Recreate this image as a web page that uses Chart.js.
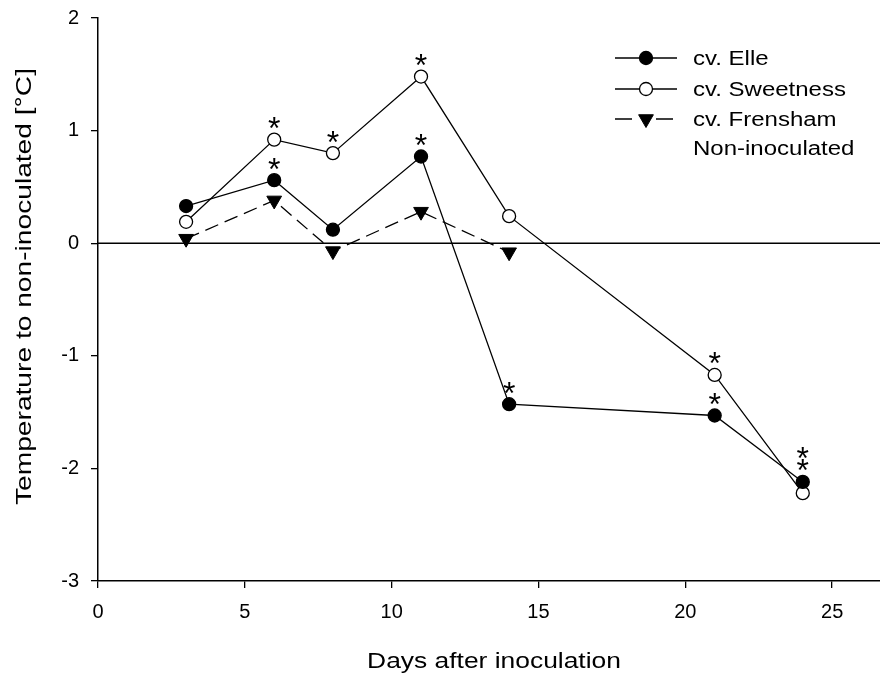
<!DOCTYPE html>
<html>
<head>
<meta charset="utf-8">
<script src="https://cdn.jsdelivr.net/npm/chart.js@4/dist/chart.umd.min.js"></script>
<style>
  html, body { margin: 0; padding: 0; background: #fff; }
  canvas { display: block; }
</style>
</head>
<body>
<canvas id="chart" width="880" height="675"></canvas>
<script>
// ── Data: temperature difference to the non-inoculated control ──
const days = [3, 6, 8, 11, 14, 21, 24];
const elleValues = [0.33, 0.56, 0.12, 0.77, -1.43, -1.53, -2.12];
const sweetnessValues = [0.19, 0.92, 0.80, 1.48, 0.24, -1.17, -2.22];
const frenshamDays = [3, 6, 8, 11, 14];
const frenshamValues = [0.04, 0.38, -0.07, 0.28, -0.08];
const controlDays = [0, 27];
const controlValues = [0, 0];

// days with a significant difference (marked with *)
const elleSignificant = [6, 11, 14, 21, 24];
const sweetnessSignificant = [6, 8, 11, 21, 24];

const seriesLabels = ['cv. Elle', 'cv. Sweetness', 'cv. Frensham', 'Non-inoculated'];
const xTickValues = [0, 5, 10, 15, 20, 25];
const yTickValues = [-3, -2, -1, 0, 1, 2];
const xTitle = 'Days after inoculation';
const yTitle = 'Temperature to non-inoculated [°C]';

const FONT = '"Liberation Sans", Arial, Helvetica, sans-serif';

const toPoints = (xs, ys) => xs.map((x, i) => ({ x: x, y: ys[i] }));

// text drawn a little wider than the plain font
function wideText(ctx, text, x, y, size, stretch, rotate, align) {
    ctx.save();
    ctx.translate(x, y);
    if (rotate) ctx.rotate(rotate);
    ctx.scale(stretch, 1);
    ctx.font = size + 'px ' + FONT;
    ctx.fillStyle = '#000';
    ctx.textBaseline = 'alphabetic';
    ctx.textAlign = align || 'center';
    ctx.fillText(text, 0, 0);
    ctx.restore();
}

// ── Asterisks, axis titles and legend ─────────────
const extras = {
    id: 'extras',
    afterDatasetsDraw(chart) {
        const ctx = chart.ctx;
        const marks = [[0, elleSignificant], [1, sweetnessSignificant]];
        const byDay = {};
        marks.forEach(([dsIndex, list]) => {
            const meta = chart.getDatasetMeta(dsIndex);
            list.forEach((d) => {
                const i = chart.data.datasets[dsIndex].data.findIndex(p => p.x === d);
                if (i < 0) return;
                const el = meta.data[i];
                (byDay[d] = byDay[d] || []).push({ x: el.x, y: el.y });
            });
        });

        const size = 32;
        ctx.save();
        ctx.font = size + 'px ' + FONT;
        ctx.fillStyle = '#000';
        ctx.textAlign = 'center';
        ctx.textBaseline = 'alphabetic';
        Object.values(byDay).forEach((pts) => {
            pts.sort((a, b) => a.y - b.y);
            let prev = null;
            pts.forEach((p) => {
                let cy;
                if (prev && p.y - prev.pointY < 25) {
                    cy = prev.starY - 12;   // stack above the neighbouring star
                } else {
                    cy = p.y - 19;
                }
                ctx.fillText('*', p.x, cy + size * 0.575);
                prev = { pointY: p.y, starY: cy };
            });
        });
        ctx.restore();
    },
    afterDraw(chart) {
        const ctx = chart.ctx;
        const area = chart.chartArea;

        // axis titles
        wideText(ctx, xTitle, (area.left + area.right) / 2 + 5, 668, 22, 1.2, 0);
        wideText(ctx, yTitle, 31, (area.top + area.bottom) / 2 - 13, 22, 1.28, -Math.PI / 2);

        // legend
        const rowY = [58, 89, 119, 148];
        const lineX0 = 615, lineX1 = 677, markX = 646, textX = 693;
        chart.data.datasets.forEach((ds, i) => {
            const y = rowY[i];
            ctx.save();
            ctx.strokeStyle = '#000';
            ctx.lineWidth = 1.3;
            if (i < 3) {
                ctx.beginPath();
                if (ds.borderDash && ds.borderDash.length) {
                    ctx.moveTo(lineX0, y); ctx.lineTo(lineX0 + 17, y);
                    ctx.moveTo(lineX1 - 21, y); ctx.lineTo(lineX1 - 4, y);
                } else {
                    ctx.moveTo(lineX0, y); ctx.lineTo(lineX1, y);
                }
                ctx.stroke();
                ctx.fillStyle = ds.pointBackgroundColor;
                ctx.strokeStyle = ds.pointBorderColor;
                ctx.lineWidth = ds.pointBorderWidth;
                Chart.helpers.drawPoint(ctx, {
                    pointStyle: ds.pointStyle,
                    radius: ds.pointRadius,
                    rotation: ds.pointRotation || 0,
                    borderWidth: ds.pointBorderWidth
                }, markX, y);
            }
            ctx.restore();
            wideText(ctx, seriesLabels[i], textX, y + 7, 20, 1.2, 0, 'left');
        });
    }
};

const ctx = document.getElementById('chart').getContext('2d');

new Chart(ctx, {
    type: 'line',
    data: {
        datasets: [
            {
                label: seriesLabels[0],
                data: toPoints(days, elleValues),
                borderColor: '#000',
                borderWidth: 1.3,
                pointStyle: 'circle',
                pointRadius: 6.5,
                pointBackgroundColor: '#000',
                pointBorderColor: '#000',
                pointBorderWidth: 1.3,
                order: 1
            },
            {
                label: seriesLabels[1],
                data: toPoints(days, sweetnessValues),
                borderColor: '#000',
                borderWidth: 1.3,
                pointStyle: 'circle',
                pointRadius: 6.5,
                pointBackgroundColor: '#fff',
                pointBorderColor: '#000',
                pointBorderWidth: 1.3,
                order: 2
            },
            {
                label: seriesLabels[2],
                data: toPoints(frenshamDays, frenshamValues),
                borderColor: '#000',
                borderWidth: 1.3,
                borderDash: [14, 7],
                pointStyle: 'triangle',
                pointRotation: 180,
                pointRadius: 8.5,
                pointBackgroundColor: '#000',
                pointBorderColor: '#000',
                pointBorderWidth: 1,
                order: 3
            },
            {
                label: seriesLabels[3],
                data: toPoints(controlDays, controlValues),
                borderColor: '#000',
                borderWidth: 1.5,
                pointRadius: 0,
                order: 4
            }
        ]
    },
    options: {
        responsive: false,
        animation: false,
        layout: { autoPadding: false, padding: { top: 18, right: 0, bottom: 0, left: 0 } },
        plugins: {
            legend: { display: false },
            tooltip: { enabled: false }
        },
        scales: {
            x: {
                type: 'linear',
                min: 0,
                max: 26.63,
                afterBuildTicks: (scale) => { scale.ticks = xTickValues.map(v => ({ value: v })); },
                afterFit: (scale) => {
                    scale.height = 94;
                    scale.paddingLeft = 0;
                    scale.paddingRight = 0;
                },
                grid: { drawOnChartArea: false, tickLength: 7, color: '#000', lineWidth: 1.3 },
                border: { color: '#000', width: 1.5 },
                ticks: { color: '#000', font: { family: FONT, size: 20 }, padding: 12, maxRotation: 0 }
            },
            y: {
                type: 'linear',
                min: -3,
                max: 2,
                afterBuildTicks: (scale) => { scale.ticks = yTickValues.map(v => ({ value: v })); },
                afterFit: (scale) => {
                    scale.width = 98;
                    scale.paddingTop = 0;
                    scale.paddingBottom = 0;
                },
                grid: { drawOnChartArea: false, tickLength: 7, color: '#000', lineWidth: 1.3 },
                border: { color: '#000', width: 1.5 },
                ticks: { color: '#000', font: { family: FONT, size: 20 }, padding: 12 }
            }
        }
    },
    plugins: [extras]
});
</script>
</body>
</html>
